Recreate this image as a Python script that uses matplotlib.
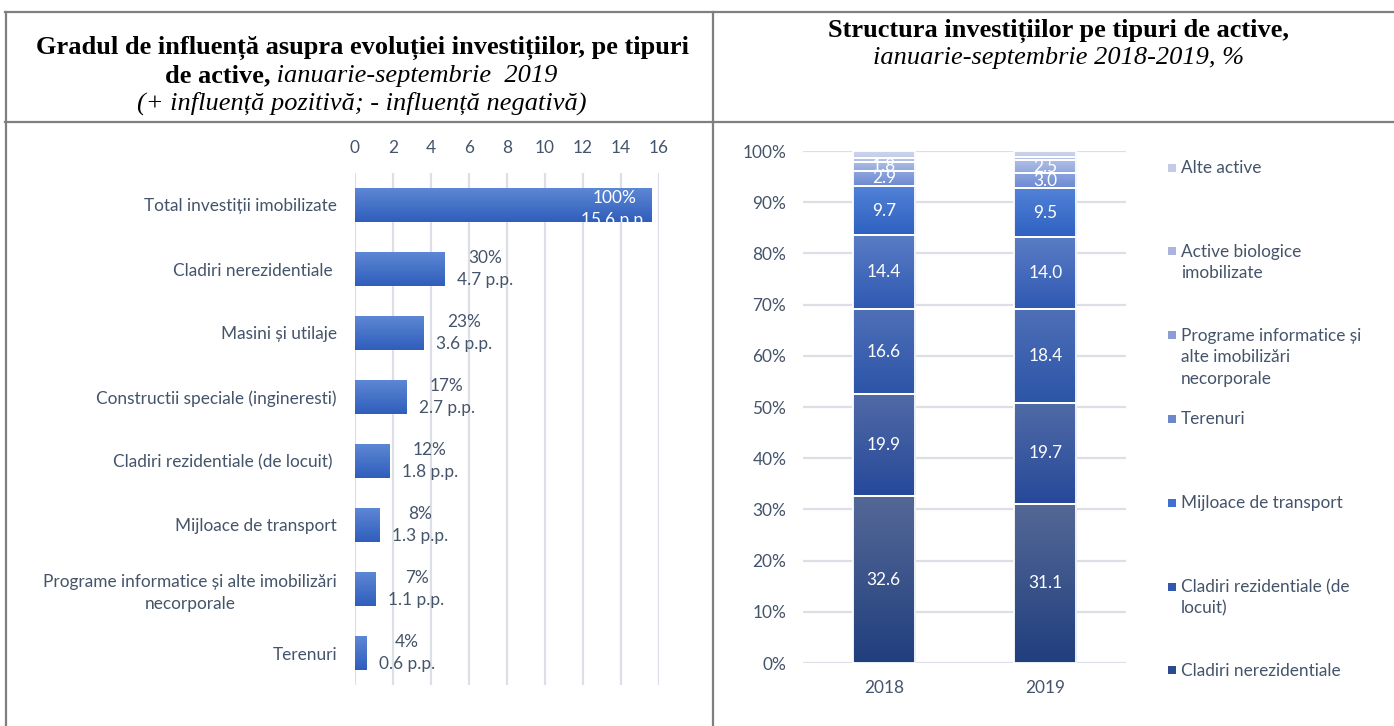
import numpy as np
import matplotlib
matplotlib.use("Agg")
import matplotlib.pyplot as plt
from matplotlib.colors import LinearSegmentedColormap
from matplotlib.lines import Line2D
from matplotlib.patches import Rectangle

# ---- data ----
left_labels = ["Total investiții imobilizate", "Cladiri nerezidentiale ", "Masini și utilaje",
               "Constructii speciale (ingineresti)", "Cladiri rezidentiale (de locuit) ",
               "Mijloace de transport", "Programe informatice și alte imobilizări\nnecorporale",
               "Terenuri"]
left_pp = [15.6, 4.7, 3.6, 2.7, 1.8, 1.3, 1.1, 0.6]
left_share = [100, 30, 23, 17, 12, 8, 7, 4]

years = ["2018", "2019"]
series_names = ["Cladiri nerezidentiale", "Cladiri rezidentiale (de\nlocuit)",
                "Constructii speciale (ingineresti)", "Masini și utilaje",
                "Mijloace de transport", "Terenuri",
                "Programe informatice și\nalte imobilizări\nnecorporale",
                "Active biologice\nimobilizate", "Alte active"]
s_nerez = [32.6, 31.1]
s_rez = [19.9, 19.7]
s_constr = [16.6, 18.4]
s_masini = [14.4, 14.0]
s_transport = [9.7, 9.5]
s_terenuri = [2.9, 3.0]
s_programe = [1.8, 2.5]
s_biologice = [0.7, 0.6]
s_alte = [1.4, 1.2]
series_values = [s_nerez, s_rez, s_constr, s_masini, s_transport,
                 s_terenuri, s_programe, s_biologice, s_alte]
labelled = [True, True, True, True, True, True, True, False, False]
in_legend = [True, True, False, False, True, True, True, True, True]

# gradient colours (top, bottom) for each series
series_colors = [("#546896", "#213f7e"), ("#506aa6", "#27499a"), ("#4f6fb7", "#2c55a8"),
                 ("#5a7cc4", "#2f59b2"), ("#5282d8", "#2e61c0"), ("#8ea5de", "#6c89d2"),
                 ("#aebde6", "#93a7dc"), ("#bcc7ea", "#aeb9e2"), ("#d0d7ee", "#c3cbe8")]
legend_colors = ["#2c4a90", "#3358b0", None, None, "#3f6fd0", "#6e87cc",
                 "#8c9dd4", "#aab4dc", "#c5cbe6"]

W, H = 1394, 726
TXT = "#44546a"
GRID = "#dcdfe5"
FS = 12.4
LS = 1.42
plt.rcParams["font.family"] = ["Lato", "DejaVu Sans"]


def fx(x):
    return x / W


def fy(y):
    return 1 - y / H


def shade(ax, patch, top, bottom, z, flip=False):
    x0, y0 = patch.get_x(), patch.get_y()
    w, h = patch.get_width(), patch.get_height()
    cmap = LinearSegmentedColormap.from_list("g", [top, bottom])
    grad = np.linspace(0, 1, 64).reshape(-1, 1)
    ext = (x0, x0 + w, y0 + h, y0) if flip else (x0, x0 + w, y0, y0 + h)
    im = ax.imshow(grad, cmap=cmap, extent=ext, aspect="auto", zorder=z,
                   interpolation="bilinear")
    im.set_clip_path(patch)
    return im


fig = plt.figure(figsize=(W / 100, H / 100), dpi=100)

# ---- table frame ----
frame = dict(color="#7f7f7f", lw=1.6, transform=fig.transFigure)
fig.add_artist(Line2D([fx(5), 1], [fy(12), fy(12)], **frame))
fig.add_artist(Line2D([fx(5), 1], [fy(122), fy(122)], **frame))
fig.add_artist(Line2D([fx(6), fx(6)], [fy(12), 0], **frame))
fig.add_artist(Line2D([fx(713), fx(713)], [fy(12), 0], **frame))

# ---- titles ----
def title_line(parts, xc, ybase, size=19):
    texts = []
    for s, weight, style in parts:
        texts.append(fig.text(0, fy(ybase), s, fontsize=size, family="Liberation Serif",
                              weight=weight, style=style, va="baseline", ha="left"))
    r = fig.canvas.get_renderer()
    widths = [t.get_window_extent(r).width for t in texts]
    x = xc - sum(widths) / 2
    for t, w in zip(texts, widths):
        t.set_x(fx(x))
        x += w


title_line([("Gradul de influență asupra evoluției investițiilor, pe tipuri", "bold", "normal")], 362, 54)
title_line([("de active,", "bold", "normal"), (" ianuarie-septembrie  2019", "normal", "italic")], 361, 82)
title_line([("(+ influență pozitivă; - influență negativă)", "normal", "italic")], 362, 110)
title_line([("Structura investițiilor pe tipuri de active,", "bold", "normal")], 1059, 37)
title_line([("ianuarie-septembrie 2018-2019, %", "normal", "italic")], 1059, 64)

# ---- left chart ----
ax1 = fig.add_axes([fx(355), fy(685), (659 - 355) / W, 512 / H])
ypos = np.arange(len(left_labels))
bars = ax1.barh(ypos, left_pp, height=0.52, color="#4472c4", zorder=2)
for b, pp, sh in zip(bars, left_pp, left_share):
    shade(ax1, b, "#5d87d4", "#2f5ebb", 2.1, flip=True)
    b.set_facecolor("none")
    lab = f"{sh}%\n{pp} p.p."
    if pp > 10:
        t = ax1.annotate(lab, (pp, b.get_y() + b.get_height() / 2), xytext=(-3, -3),
                         textcoords="offset points", ha="right", va="center",
                         multialignment="center", color="white", fontsize=FS,
                         linespacing=LS, zorder=3)
        t.set_clip_path(b)
    else:
        ax1.annotate(lab, (pp, b.get_y() + b.get_height() / 2), xytext=(9, 0),
                     textcoords="offset points", ha="left", va="center",
                     multialignment="center", color=TXT, fontsize=FS,
                     linespacing=LS, zorder=3)
ax1.set_xlim(0, 16)
ax1.set_ylim(len(left_labels) - 0.5, -0.5)
ax1.set_xticks(np.arange(0, 17, 2))
ax1.set_yticks(ypos)
ax1.set_yticklabels(left_labels, multialignment="center", linespacing=LS)
ax1.xaxis.tick_top()
ax1.tick_params(axis="x", length=0, pad=12, labelsize=FS, labelcolor=TXT)
ax1.tick_params(axis="y", length=0, pad=13, labelsize=FS, labelcolor=TXT)
ax1.grid(axis="x", color=GRID, lw=1.6, zorder=0)
ax1.set_axisbelow(True)
for s in ax1.spines.values():
    s.set_visible(False)

# ---- right chart ----
ax2 = fig.add_axes([fx(803), fy(663), (1126 - 803) / W, 512 / H])
xpos = np.arange(len(years))
bottom = np.zeros(len(years))
for vals, (c_top, c_bot), show in zip(series_values, series_colors, labelled):
    bs = ax2.bar(xpos, vals, 0.385, bottom=bottom, color=c_bot, edgecolor="white",
                 lw=1.3, zorder=2)
    for b, v in zip(bs, vals):
        shade(ax2, b, c_top, c_bot, 2.1)
        b.set_facecolor("none")
        b.set_zorder(2.2)
        if show:
            ax2.text(b.get_x() + b.get_width() / 2, b.get_y() + v / 2, f"{v:.1f}",
                     ha="center", va="center", color="white", fontsize=FS, zorder=3)
    bottom += np.array(vals)
ax2.set_xlim(-0.5, 1.5)
ax2.set_ylim(0, 100)
ax2.set_xticks(xpos)
ax2.set_xticklabels(years)
ax2.set_yticks(np.arange(0, 101, 10))
ax2.set_yticklabels([f"{v}%" for v in range(0, 101, 10)])
ax2.tick_params(axis="x", length=0, pad=12, labelsize=FS, labelcolor=TXT)
ax2.tick_params(axis="y", length=0, pad=12, labelsize=FS, labelcolor=TXT)
ax2.grid(axis="y", color=GRID, lw=1.6, zorder=0)
ax2.set_axisbelow(True)
for s in ax2.spines.values():
    s.set_visible(False)

# ---- legend (Excel keeps 7 slots, reversed order) ----
lax = fig.add_axes([fx(1150), 0, (W - 1150) / W, 1])
lax.set_xlim(1150, W)
lax.set_ylim(H, 0)
lax.axis("off")
entries = [i for i in range(len(series_names)) if in_legend[i]][::-1]
for k, i in enumerate(entries):
    yc = 167 + k * 83.8
    lax.add_patch(Rectangle((1168, yc - 3.5), 8, 8, color=legend_colors[i], lw=0))
    lax.text(1181, yc - 7, series_names[i], ha="left", va="top", fontsize=FS,
             color=TXT, linespacing=LS)

fig.savefig("out.png", dpi=100)
